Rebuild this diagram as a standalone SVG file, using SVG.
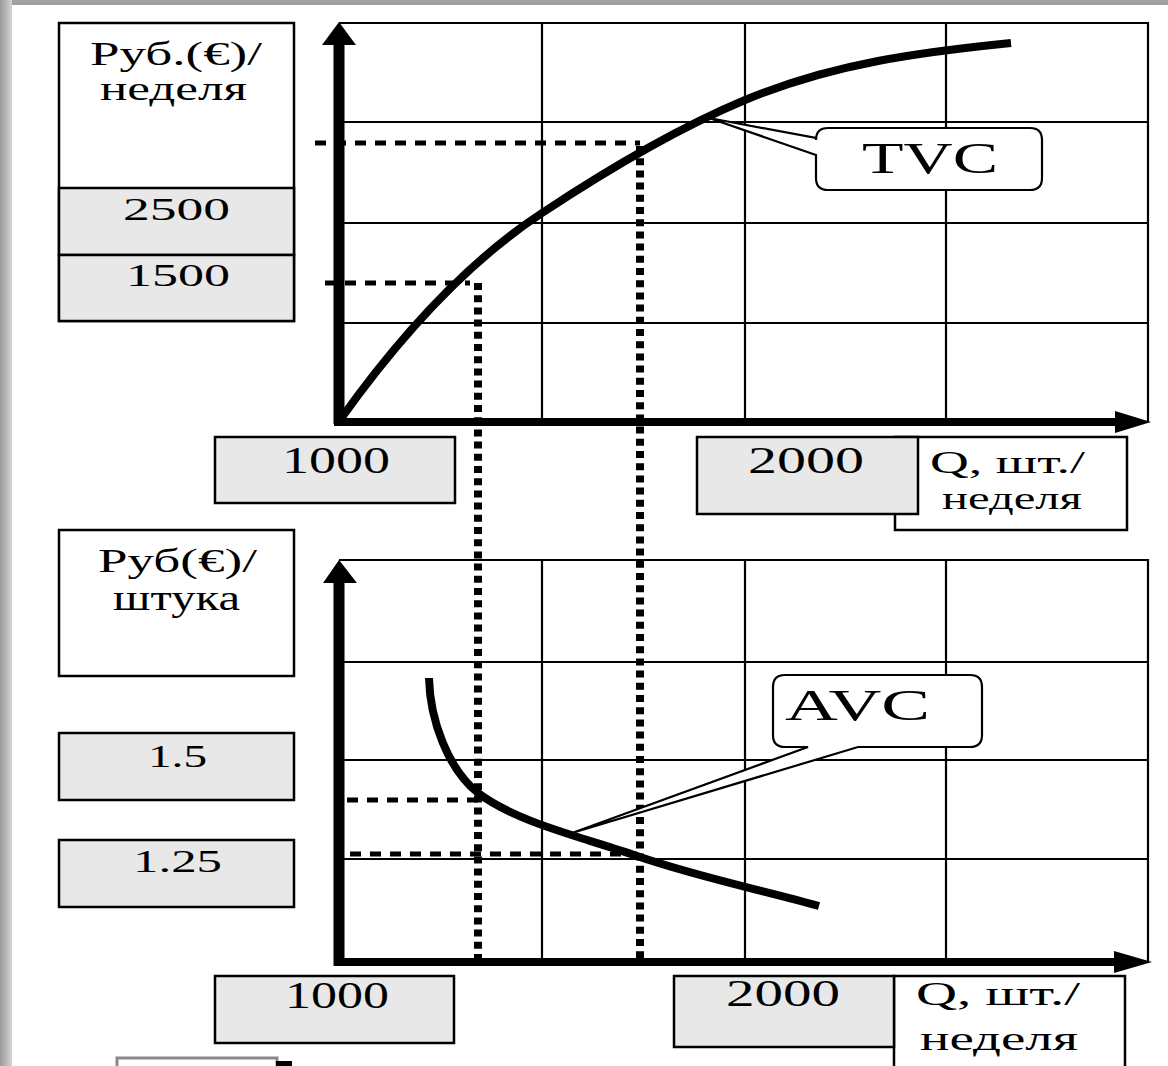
<svg xmlns="http://www.w3.org/2000/svg" width="1168" height="1066" viewBox="0 0 1168 1066">
<defs>
<linearGradient id="edge" x1="0" x2="1" y1="0" y2="0"><stop offset="0" stop-color="#9a9a9a"/><stop offset="1" stop-color="#d4d4d4"/></linearGradient>
<style>
.t{font-family:'Liberation Serif','Times New Roman',serif;fill:#000;}
.box{fill:#fff;stroke:#000;stroke-width:2.5}
.gbox{fill:#e8e8e8;stroke:#000;stroke-width:2.5}
.grid{stroke:#000;stroke-width:2.2;fill:none}
.curve{stroke:#000;stroke-width:8;fill:none;stroke-linecap:butt}
.dash{stroke:#000;stroke-width:5;stroke-dasharray:11 9;fill:none}
.dot{stroke:#000;stroke-width:8;stroke-dasharray:7 5.2;fill:none}
.call{fill:#fff;stroke:#000;stroke-width:2.2;stroke-linejoin:miter}
</style>
</defs>
<rect x="0" y="0" width="1168" height="1066" fill="#fff"/>
<rect x="0" y="0" width="1168" height="5" fill="#a0a0a0"/>
<rect x="0" y="0" width="12" height="1066" fill="url(#edge)"/>

<g id="grid-top" class="grid">
<path d="M339,23 H1148 V422 M339,122 H1148 M339,223 H1148 M339,323 H1148 M542,23 V422 M745,23 V422 M946,23 V422"/>
</g>
<g id="grid-bottom" class="grid">
<path d="M339,560 H1148 V962 M339,662 H1148 M339,760 H1148 M339,859 H1148 M542,560 V962 M745,560 V962 M946,560 V962"/>
</g>

<g id="ylabel-top">
<rect class="box" x="59" y="23" width="235" height="298"/>
<rect class="gbox" x="59" y="188" width="235" height="67"/>
<rect class="gbox" x="59" y="255" width="235" height="66"/>
<text class="t" x="90" y="65" font-size="33" textLength="172" lengthAdjust="spacingAndGlyphs">Руб.(€)/</text>
<text class="t" x="100" y="100" font-size="33" textLength="147" lengthAdjust="spacingAndGlyphs">неделя</text>
<text class="t" x="123" y="220" font-size="32" textLength="107" lengthAdjust="spacingAndGlyphs">2500</text>
<text class="t" x="126" y="286" font-size="32" textLength="104" lengthAdjust="spacingAndGlyphs">1500</text>
</g>

<g id="xlabel-top">
<rect class="box" x="895" y="437" width="232" height="93"/>
<rect class="gbox" x="215" y="437" width="240" height="66"/>
<rect class="gbox" x="697" y="437" width="221" height="77"/>
<text class="t" x="282" y="473" font-size="38" textLength="108" lengthAdjust="spacingAndGlyphs">1000</text>
<text class="t" x="748" y="473" font-size="38" textLength="116" lengthAdjust="spacingAndGlyphs">2000</text>
<text class="t" x="930" y="473" font-size="32" textLength="155" lengthAdjust="spacingAndGlyphs">Q, шт./</text>
<text class="t" x="942" y="509" font-size="32" textLength="140" lengthAdjust="spacingAndGlyphs">неделя</text>
</g>

<g id="ylabel-bottom">
<rect class="box" x="59" y="530" width="235" height="146"/>
<text class="t" x="98" y="572" font-size="33" textLength="159" lengthAdjust="spacingAndGlyphs">Руб(€)/</text>
<text class="t" x="113" y="610" font-size="35" textLength="127" lengthAdjust="spacingAndGlyphs">штука</text>
<rect class="gbox" x="59" y="733" width="235" height="67"/>
<text class="t" x="148" y="767" font-size="32" textLength="59" lengthAdjust="spacingAndGlyphs">1.5</text>
<rect class="gbox" x="59" y="840" width="235" height="67"/>
<text class="t" x="133" y="872" font-size="32" textLength="89" lengthAdjust="spacingAndGlyphs">1.25</text>
</g>

<g id="xlabel-bottom">
<rect class="box" x="894" y="976" width="231" height="100"/>
<rect class="gbox" x="215" y="976" width="239" height="67"/>
<rect class="gbox" x="674" y="976" width="220" height="71"/>
<text class="t" x="285" y="1008" font-size="38" textLength="104" lengthAdjust="spacingAndGlyphs">1000</text>
<text class="t" x="726" y="1006" font-size="38" textLength="114" lengthAdjust="spacingAndGlyphs">2000</text>
<text class="t" x="916" y="1005" font-size="34" textLength="164" lengthAdjust="spacingAndGlyphs">Q, шт./</text>
<text class="t" x="920" y="1050" font-size="34" textLength="158" lengthAdjust="spacingAndGlyphs">неделя</text>
</g>

<g id="connectors">
<path class="dash" d="M315,143 H640"/>
<path class="dash" d="M325,283 H470"/>
<path class="dash" d="M347,800 H478"/>
<path class="dash" d="M350,854 H637"/>
<path class="dot" d="M478,283 V962"/>
<path class="dot" d="M640,146 V962"/>
</g>

<g id="curve-tvc">
<path class="curve" d="M340,420 C407,326 475,257 542,213 C610,168 677,128.5 745,100 C834,63 922,52 1011,43"/>
</g>
<g id="curve-avc">
<path class="curve" d="M429,678 C430,720 448,769 478,793 C518,823 584,837.5 637,856 C698,877 758,889 819,906"/>
</g>

<g id="axes-top">
<path d="M339,424 V40" stroke="#000" stroke-width="11" fill="none"/>
<polygon points="339,22 322,45 356,45" fill="#000"/>
<path d="M334,422 H1118" stroke="#000" stroke-width="8" fill="none"/>
<polygon points="1151,422 1115,411 1115,433" fill="#000"/>
</g>
<g id="axes-bottom">
<path d="M339,966 V578" stroke="#000" stroke-width="11" fill="none"/>
<polygon points="339,560 323,583 357,583" fill="#000"/>
<path d="M334,962 H1118" stroke="#000" stroke-width="8" fill="none"/>
<polygon points="1152,962 1114,951 1114,973" fill="#000"/>
</g>

<g id="callout-tvc">
<path class="call" d="M828,128 H1030 Q1042,128 1042,140 V178 Q1042,190 1030,190 H828 Q816,190 816,178 V155 L709,118 L816,138 V140 Q816,128 828,128 Z"/>
<text class="t" x="862" y="173" font-size="45" textLength="136" lengthAdjust="spacingAndGlyphs">TVC</text>
</g>
<g id="callout-avc">
<path class="call" d="M785,675 H970 Q982,675 982,687 V735 Q982,747 970,747 H858 L572,833 L808,747 H785 Q773,747 773,735 V687 Q773,675 785,675 Z"/>
<text class="t" x="785" y="720" font-size="45" textLength="145" lengthAdjust="spacingAndGlyphs">AVC</text>
</g>

<g id="partial-box">
<rect x="117" y="1058" width="160" height="20" fill="#fff" stroke="#8a8a8a" stroke-width="3"/>
<rect x="276" y="1061" width="16" height="6" fill="#000"/>
</g>
</svg>
